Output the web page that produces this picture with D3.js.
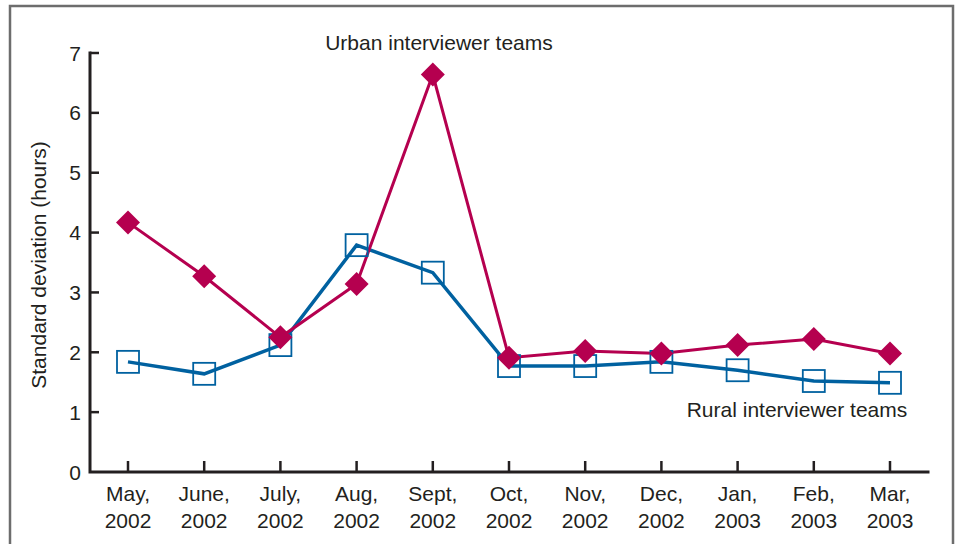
<!DOCTYPE html>
<html>
<head>
<meta charset="utf-8">
<script src="https://cdn.jsdelivr.net/npm/d3@7"></script>
<style>
  body { margin: 0; background: #fff; }
  text { font-family: "Liberation Sans", Arial, sans-serif; fill: #231f20; }
</style>
</head>
<body>
<div id="chart"></div>
<script>
const months = ["May,|2002", "June,|2002", "July,|2002", "Aug,|2002", "Sept,|2002", "Oct,|2002",
                "Nov,|2002", "Dec,|2002", "Jan,|2003", "Feb,|2003", "Mar,|2003"];
const urban = [4.17, 3.27, 2.25, 3.14, 6.64, 1.91, 2.02, 1.98, 2.12, 2.22, 1.98];
const rural = [1.84, 1.64, 2.12, 3.79, 3.33, 1.77, 1.77, 1.84, 1.70, 1.52, 1.49];
const yTicks = [0, 1, 2, 3, 4, 5, 6, 7];

const W = 956, H = 544;
const svg = d3.select("#chart").append("svg")
    .attr("width", W).attr("height", H);

// frame
svg.append("path")
    .attr("d", `M10,${H} L10,6 L953,6 L953,${H}`)
    .attr("fill", "none").attr("stroke", "#6d6d6d").attr("stroke-width", 2.5);

const x0 = 90, x1 = 928, yTop = 53, yBot = 472;
const xScale = d3.scalePoint().domain(months).range([128, 890]);
const yScale = d3.scaleLinear().domain([0, 7]).range([yBot, yTop]);

// axes
const ax = svg.append("g").attr("stroke", "#231f20").attr("stroke-width", 3).attr("fill", "none");
ax.append("path").attr("d", `M${x0},${yTop} L${x0},${yBot} L${x1},${yBot}`).attr("stroke-linecap", "square");

ax.selectAll(".yt").data(yTicks.filter(d => d > 0)).enter().append("line")
    .attr("x1", x0).attr("x2", x0 + 9)
    .attr("y1", d => yScale(d)).attr("y2", d => yScale(d))
    .attr("stroke-width", 2.5);

ax.selectAll(".xt").data(months).enter().append("line")
    .attr("x1", d => xScale(d)).attr("x2", d => xScale(d))
    .attr("y1", yBot).attr("y2", yBot - 11)
    .attr("stroke-width", 2.5);

svg.selectAll(".ylab").data(yTicks).enter().append("text")
    .attr("x", 81).attr("y", d => yScale(d) + 7.5)
    .attr("text-anchor", "end")
    .attr("font-size", 21)
    .text(d => d);

const xl = svg.selectAll(".xlab").data(months).enter().append("text")
    .attr("text-anchor", "middle")
    .attr("font-size", 21);
xl.append("tspan").attr("x", d => xScale(d)).attr("y", 501).text(d => d.split("|")[0]);
xl.append("tspan").attr("x", d => xScale(d)).attr("y", 528).text(d => d.split("|")[1]);

svg.append("text")
    .attr("transform", "translate(46,265) rotate(-90)")
    .attr("text-anchor", "middle")
    .attr("font-size", 21)
    .text("Standard deviation (hours)");

const line = d3.line()
    .x((d, i) => xScale(months[i]))
    .y(d => yScale(d));

const blue = "#0061a0", red = "#b5004f";

svg.append("path").datum(rural)
    .attr("fill", "none").attr("stroke", blue).attr("stroke-width", 3.5)
    .attr("d", line);
svg.append("path").datum(urban)
    .attr("fill", "none").attr("stroke", red).attr("stroke-width", 3)
    .attr("d", line);

svg.selectAll(".sq").data(rural).enter().append("rect")
    .attr("x", (d, i) => xScale(months[i]) - 11)
    .attr("y", d => yScale(d) - 11)
    .attr("width", 22).attr("height", 22)
    .attr("fill", "none").attr("stroke", blue).attr("stroke-width", 1.8);

svg.selectAll(".dm").data(urban).enter().append("path")
    .attr("transform", (d, i) => `translate(${xScale(months[i])},${yScale(d)})`)
    .attr("d", "M0,-12 L12,0 L0,12 L-12,0 Z")
    .attr("fill", red);

svg.append("text").attr("x", 439).attr("y", 50)
    .attr("text-anchor", "middle").attr("font-size", 21)
    .text("Urban interviewer teams");
svg.append("text").attr("x", 797).attr("y", 417)
    .attr("text-anchor", "middle").attr("font-size", 21)
    .text("Rural interviewer teams");
</script>
</body>
</html>
